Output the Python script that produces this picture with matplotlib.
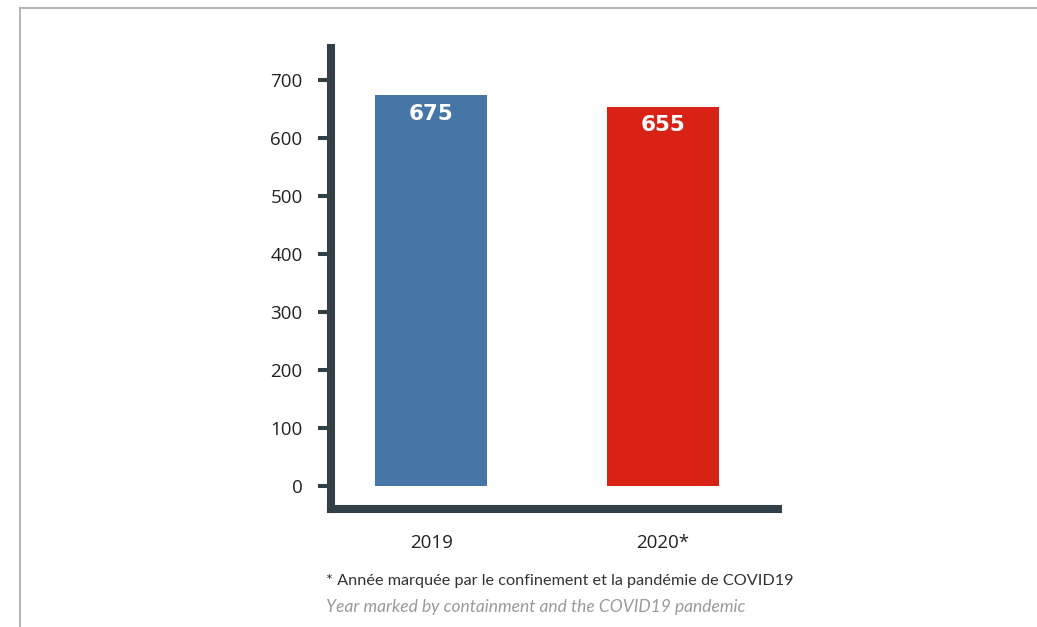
import matplotlib.pyplot as plt
from matplotlib.lines import Line2D

# Annual totals
years = ["2019", "2020*"]
totals = [675, 655]
bar_colors = ["#4676a5", "#d82216"]
yticks = [0, 100, 200, 300, 400, 500, 600, 700]

note_fr = "* Année marquée par le confinement et la pandémie de COVID19"
note_en = "Year marked by containment and the COVID19 pandemic"

spine_color = "#323f46"

fig = plt.figure(figsize=(10.37, 6.27), dpi=100)
ax = fig.add_axes([331 / 1037, 1 - 509 / 627, (778 - 331) / 1037, (509 - 48) / 627])

x = range(len(years))
bars = ax.bar(x, totals, width=0.485, color=bar_colors)

# value labels inside the bars, near the top
for b, v in zip(bars, totals):
    ax.text(b.get_x() + b.get_width() / 2, v - 32, str(v), ha="center", va="center",
            color="white", fontsize=15.5, fontweight="bold", family="DejaVu Sans")

ax.set_xlim(-0.433, 1.497)
ax.set_ylim(-39, 756)

for side in ["top", "right"]:
    ax.spines[side].set_visible(False)
for side in ["left", "bottom"]:
    ax.spines[side].set_linewidth(5.8)
    ax.spines[side].set_color(spine_color)

ax.set_yticks(yticks)
ax.set_yticklabels([str(t) for t in yticks], fontsize=13.5, family="Open Sans", color="#222222")
ax.tick_params(axis="y", length=9.5, width=2.9, color=spine_color, pad=11)

ax.set_xticks(list(x))
ax.set_xticklabels(years, fontsize=13.5, family="Open Sans", color="#222222")
ax.tick_params(axis="x", length=0, pad=18)

# footnote
fig.text(326 / 1037, 1 - 581 / 627, note_fr, fontsize=11.7, family="Lato",
         color="#333333", va="center", ha="left")
fig.text(326 / 1037, 1 - 607 / 627, note_en, fontsize=12.5, family="Lato",
         style="italic", color="#9a9a9a", va="center", ha="left")

# thin frame around the panel
fig.add_artist(Line2D([20 / 1037, 20 / 1037], [0, 1 - 7.5 / 627], transform=fig.transFigure,
                      color="#a8a8a8", lw=1.2))
fig.add_artist(Line2D([20 / 1037, 1], [1 - 7.5 / 627, 1 - 7.5 / 627], transform=fig.transFigure,
                      color="#a8a8a8", lw=1.2))

fig.savefig("out.png", dpi=100)
